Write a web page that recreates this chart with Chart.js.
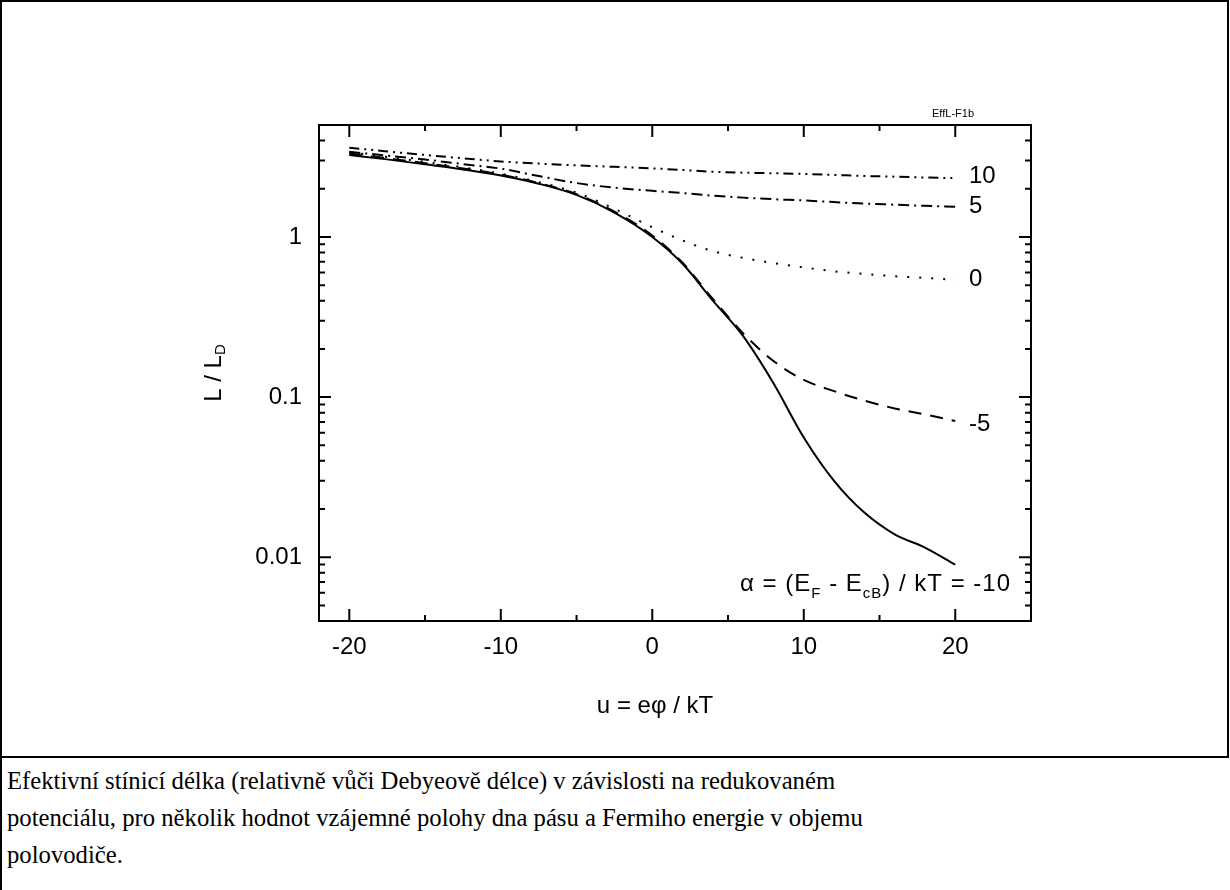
<!DOCTYPE html>
<html>
<head>
<meta charset="utf-8">
<script src="https://cdn.jsdelivr.net/npm/chart.js@4/dist/chart.umd.min.js"></script>
<style>
  body { margin: 0; background: #fff; width: 1230px; height: 890px; position: relative; overflow: hidden; }
  #cell { position: absolute; left: 0; top: 0; width: 1229px; height: 758px; box-sizing: border-box; border: 2px solid #000; }
  #leftline { position: absolute; left: 0; top: 756px; width: 2px; height: 134px; background: #000; }
  #chart { position: absolute; left: 0; top: 0; }
  #caption {
    position: absolute; left: 7px; top: 762px;
    font-family: "Liberation Serif", "Times New Roman", serif;
    font-size: 24.7px; line-height: 37px; color: #000;
  }
</style>
</head>
<body>
<div id="cell"></div>
<div id="leftline"></div>
<canvas id="chart" width="1230" height="757"></canvas>
<div id="caption">Efektivní stínicí délka (relativně vůči Debyeově délce) v závislosti na redukovaném<br>potenciálu, pro několik hodnot vzájemné polohy dna pásu a Fermiho energie v objemu<br>polovodiče.</div>

<script>
/* ===================== DATA ===================== */

// reduced potential u = e*phi / kT
const uValues = [-20, -17.5, -15, -12.5, -10, -7.5, -5, -2.5, 0, 2, 4, 6, 8, 10, 12, 14, 16, 18, 20];

// L / L_D for alpha = -10, -5, 0, 5, 10
const alphaM10 = [3.25, 3.05, 2.84, 2.64, 2.42, 2.15, 1.83, 1.42, 1.00, 0.68, 0.40, 0.24, 0.122, 0.056, 0.030, 0.019, 0.0139, 0.0115, 0.0090];
const alphaM5  = [3.32, 3.10, 2.89, 2.68, 2.45, 2.17, 1.85, 1.44, 1.02, 0.69, 0.41, 0.25, 0.168, 0.128, 0.109, 0.095, 0.085, 0.078, 0.071];
const alpha0   = [3.38, 3.16, 2.94, 2.72, 2.48, 2.20, 1.89, 1.50, 1.15, 0.95, 0.815, 0.74, 0.687, 0.645, 0.61, 0.588, 0.568, 0.555, 0.54];
const alpha5   = [3.40, 3.22, 3.04, 2.85, 2.67, 2.40, 2.17, 2.03, 1.94, 1.88, 1.81, 1.76, 1.72, 1.69, 1.65, 1.615, 1.59, 1.565, 1.545];
const alpha10  = [3.61, 3.42, 3.25, 3.10, 2.96, 2.87, 2.80, 2.74, 2.68, 2.62, 2.55, 2.52, 2.50, 2.475, 2.44, 2.40, 2.38, 2.35, 2.33];

const curveLabels = ["10", "5", "0", "-5"];
const curveLabelU = 20.9;
const curveLabelY = [2.38, 1.55, 0.54, 0.068];

const xMajorTicks = [-20, -10, 0, 10, 20];
const xMinorTicks = [-15, -5, 5, 15];
const yMajorTicks = [0.01, 0.1, 1];
const yMinorTicks = [0.005, 0.006, 0.007, 0.008, 0.009,
                     0.02, 0.03, 0.04, 0.05, 0.06, 0.07, 0.08, 0.09,
                     0.2, 0.3, 0.4, 0.5, 0.6, 0.7, 0.8, 0.9,
                     2, 3, 4];

/* ===================== HELPERS ===================== */

const FONT = '"Liberation Sans", Arial, sans-serif';

function toPoints(ys) {
  return uValues.map((u, i) => ({ x: u, y: ys[i] }));
}

function series(ys, dash) {
  return {
    data: toPoints(ys),
    borderColor: "#000",
    borderWidth: 2,
    borderDash: dash,
    pointRadius: 0,
    fill: false,
    cubicInterpolationMode: "monotone"
  };
}

/* ===================== FRAME + TEXT PLUGIN ===================== */

const framePlugin = {
  id: "frame",
  afterDatasetsDraw(chart) {
    const { ctx, chartArea: a, scales: { x, y } } = chart;
    ctx.save();
    ctx.strokeStyle = "#000";
    ctx.lineWidth = 2;
    ctx.strokeRect(a.left, a.top, a.right - a.left, a.bottom - a.top);

    ctx.beginPath();
    const xt = (v, len) => {
      const px = x.getPixelForValue(v);
      ctx.moveTo(px, a.bottom); ctx.lineTo(px, a.bottom - len);
      ctx.moveTo(px, a.top);    ctx.lineTo(px, a.top + len);
    };
    const yt = (v, len) => {
      const py = y.getPixelForValue(v);
      ctx.moveTo(a.left, py);  ctx.lineTo(a.left + len, py);
      ctx.moveTo(a.right, py); ctx.lineTo(a.right - len, py);
    };
    xMajorTicks.forEach(v => xt(v, 12));
    xMinorTicks.forEach(v => xt(v, 6));
    yMajorTicks.forEach(v => yt(v, 12));
    yMinorTicks.forEach(v => yt(v, 6));
    ctx.stroke();
    ctx.restore();
  },
  afterDraw(chart) {
    const { ctx, chartArea: a, scales: { x, y } } = chart;
    ctx.save();
    ctx.fillStyle = "#000";

    // curve labels
    ctx.font = "24px " + FONT;
    ctx.textAlign = "left";
    ctx.textBaseline = "middle";
    curveLabels.forEach((t, i) => {
      ctx.fillText(t, x.getPixelForValue(curveLabelU), y.getPixelForValue(curveLabelY[i]));
    });

    // alpha label with subscripts
    const parts = [
      ["α = (E", 24, 0], ["F", 15, 7], [" - E", 24, 0], ["cB", 15, 7], [") / kT = -10", 24, 0]
    ];
    ctx.textBaseline = "alphabetic";
    ctx.letterSpacing = "1px";
    let total = 0;
    parts.forEach(p => { ctx.font = p[1] + "px " + FONT; total += ctx.measureText(p[0]).width; });
    let cx = a.right - 20 - total;
    const base = 591;
    parts.forEach(p => {
      ctx.font = p[1] + "px " + FONT;
      ctx.fillText(p[0], cx, base + p[2]);
      cx += ctx.measureText(p[0]).width;
    });
    ctx.letterSpacing = "0px";

    // x axis title
    ctx.font = "24px " + FONT;
    ctx.textAlign = "center";
    ctx.textBaseline = "middle";
    ctx.fillText("u = eφ / kT", 655, 706);

    // y axis title, rotated
    ctx.save();
    ctx.translate(214, 373);
    ctx.rotate(-Math.PI / 2);
    ctx.textAlign = "left";
    ctx.textBaseline = "middle";
    const main = "L / L";
    ctx.font = "24px " + FONT;
    const w1 = ctx.measureText(main).width;
    ctx.font = "15px " + FONT;
    const w2 = ctx.measureText("D").width;
    const start = -(w1 + w2) / 2;
    ctx.font = "24px " + FONT;
    ctx.fillText(main, start, 0);
    ctx.font = "15px " + FONT;
    ctx.fillText("D", start + w1, 7);
    ctx.restore();

    // file tag
    ctx.font = "11px " + FONT;
    ctx.textAlign = "right";
    ctx.textBaseline = "alphabetic";
    ctx.fillText("EffL-F1b", 974, 117);

    ctx.restore();
  }
};

/* ===================== CHART ===================== */

new Chart(document.getElementById("chart"), {
  type: "line",
  data: {
    datasets: [
      series(alphaM10, []),
      series(alphaM5, [13, 9]),
      series(alpha0, [2, 10]),
      series(alpha5, [11, 5, 2, 5]),
      series(alpha10, [10, 5, 2, 5, 2, 5])
    ]
  },
  options: {
    responsive: false,
    animation: false,
    devicePixelRatio: 1,
    layout: { padding: { left: 0, right: 199, top: 125, bottom: 0 } },
    plugins: { legend: { display: false }, tooltip: { enabled: false } },
    scales: {
      x: {
        type: "linear",
        min: -22,
        max: 25,
        grid: { display: false, drawTicks: false },
        border: { display: false },
        afterBuildTicks: s => { s.ticks = xMajorTicks.map(v => ({ value: v })); },
        afterFit: s => { s.height = 136; },
        ticks: {
          autoSkip: false,
          maxRotation: 0,
          padding: 12,
          color: "#000",
          font: { family: FONT, size: 24 },
          callback: v => String(v)
        }
      },
      y: {
        type: "logarithmic",
        min: 0.004,
        max: 5,
        grid: { display: false, drawTicks: false },
        border: { display: false },
        afterBuildTicks: s => { s.ticks = yMajorTicks.map(v => ({ value: v })); },
        afterFit: s => { s.width = 319; },
        ticks: {
          autoSkip: false,
          padding: 17,
          color: "#000",
          font: { family: FONT, size: 24 },
          callback: v => String(v)
        }
      }
    }
  },
  plugins: [framePlugin]
});
</script>
</body>
</html>
